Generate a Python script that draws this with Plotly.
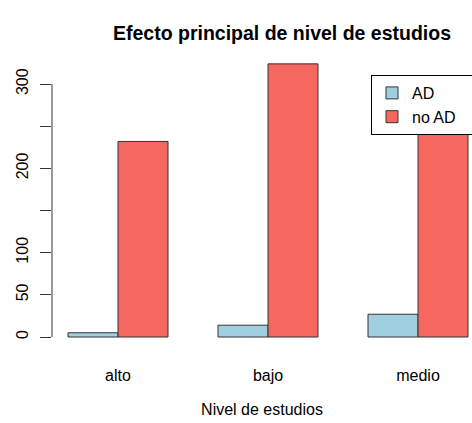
import plotly.graph_objects as go

categories = ["alto", "bajo", "medio"]
ad_values = [5, 14, 27]
no_ad_values = [232, 324, 250]
series_names = ["AD", "no AD"]
y_tick_vals = [0, 50, 100, 150, 200, 250, 300]
y_tick_text = ["0", "50", "100", "", "200", "", "300"]

FONT = "Liberation Sans, Arial, Helvetica, sans-serif"
W, H = 472, 423
ML, MR, MT, MB = 52, 0, 53, 75
PAD = "\u00a0" * 6  # legend box runs past the right edge, as in the reference

fig = go.Figure()
fig.add_trace(go.Bar(x=categories, y=ad_values, name=series_names[0] + PAD,
                     marker=dict(color="#A0CFE0", line=dict(color="#333333", width=1))))
fig.add_trace(go.Bar(x=categories, y=no_ad_values, name=series_names[1] + PAD,
                     marker=dict(color="#F5675F", line=dict(color="#333333", width=1))))

fig.update_layout(
    width=W, height=H,
    margin=dict(l=ML, r=MR, t=MT, b=MB, pad=0, autoexpand=False),
    paper_bgcolor="white", plot_bgcolor="white",
    barmode="group", bargap=1/3, bargroupgap=0,
    font=dict(family=FONT, size=16, color="black"),
    title=dict(text="<b>Efecto principal de nivel de estudios</b>",
               font=dict(family=FONT, size=19.5, color="black"),
               x=(282 - ML) / (W - ML - MR), xref="paper", xanchor="center",
               y=1 - 33 / H, yref="container", yanchor="middle"),
    legend=dict(x=(371 - ML) / (W - ML - MR), y=(H - MB - 75) / (H - MT - MB),
                xanchor="left", yanchor="top",
                bgcolor="white", bordercolor="black", borderwidth=1,
                font=dict(family=FONT, size=16), tracegroupgap=4),
    showlegend=True,
)
fig.update_xaxes(type="category", range=[-0.44, 2.36], showline=False, showgrid=False,
                 zeroline=False, ticks="outside", ticklen=13, tickcolor="white",
                 tickfont=dict(size=16),
                 title=dict(text="Nivel de estudios", font=dict(size=16), standoff=20))
fig.update_yaxes(range=[-13.05, 336.9], showline=False, showgrid=False, zeroline=False,
                 tickvals=y_tick_vals, ticktext=y_tick_text, tickangle=-90,
                 ticks="outside", ticklen=11, tickcolor="#333333", tickwidth=1,
                 tickfont=dict(size=16), ticklabelstandoff=6)
fig.add_shape(type="line", xref="paper", yref="y", x0=0, x1=0,
              y0=y_tick_vals[0], y1=y_tick_vals[-1], line=dict(color="#333333", width=1))

fig.write_html("out.html", config={"displayModeBar": False},
               post_script="document.body.style.margin='0';document.body.style.overflow='hidden';")
